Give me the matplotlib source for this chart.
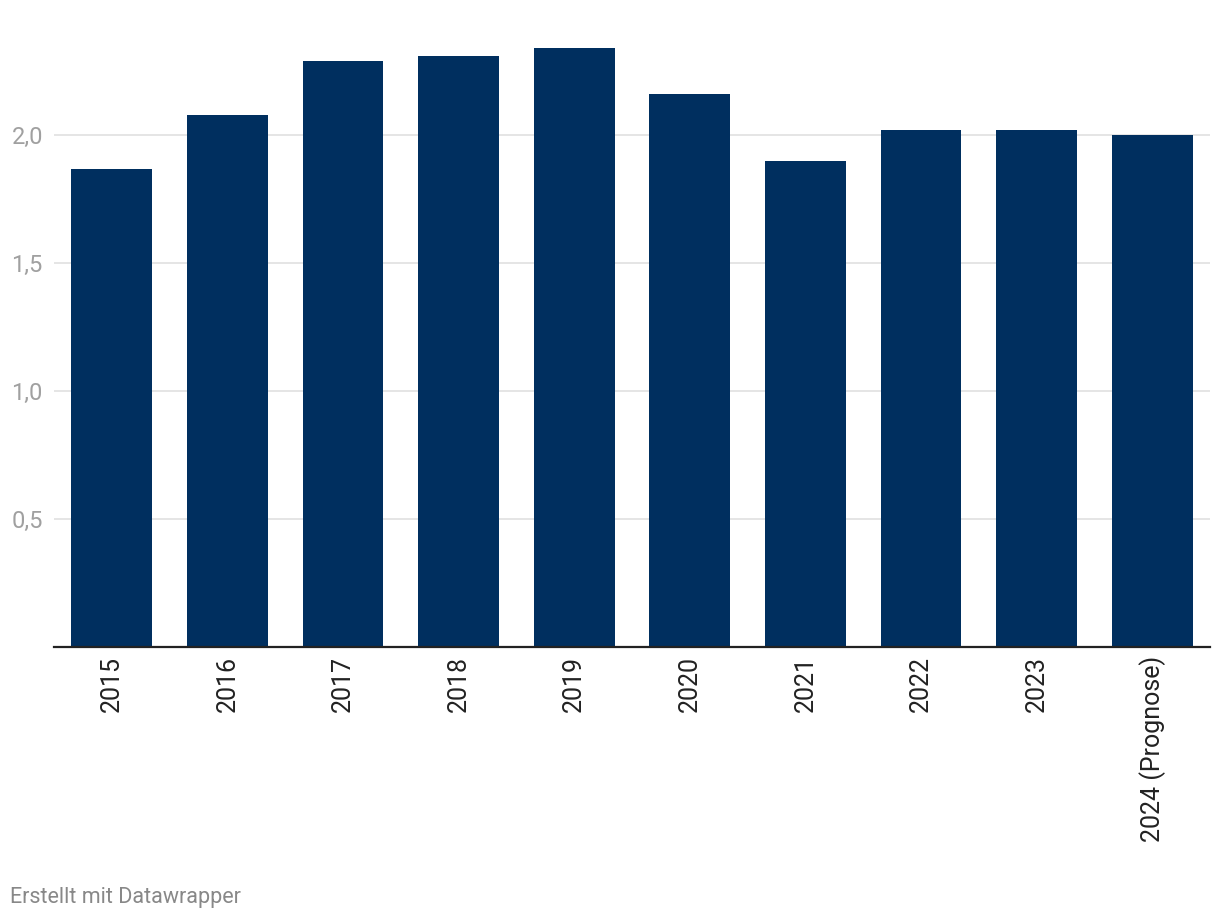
import matplotlib.pyplot as plt
import numpy as np

plt.rcParams['font.family'] = ['Roboto', 'DejaVu Sans']

years = ["2015", "2016", "2017", "2018", "2019", "2020", "2021", "2022", "2023", "2024 (Prognose)"]
values = [1.87, 2.08, 2.29, 2.31, 2.34, 2.16, 1.90, 2.02, 2.02, 2.00]
y_ticks = [0.5, 1.0, 1.5, 2.0]
y_tick_labels = ["0,5", "1,0", "1,5", "2,0"]

bar_color = "#002f5f"

fig = plt.figure(figsize=(12.2, 9.24), dpi=100)
ax = fig.add_axes([54 / 1220, 1 - 647.3 / 924, (1210 - 54) / 1220, (647.3 - 10) / 924])

x = np.arange(len(years))
ax.bar(x, values, width=0.70, color=bar_color, zorder=3)

ax.set_xlim(-0.5, len(years) - 0.5)
ax.set_ylim(0, 2.49)

ax.set_yticks(y_ticks)
ax.set_yticklabels(y_tick_labels)
ax.grid(axis="y", color="#e5e5e5", linewidth=1.4, zorder=0)

ax.set_xticks(x)
ax.set_xticklabels(years, rotation=90, va="top", ha="center")

for side in ["top", "right", "left"]:
    ax.spines[side].set_visible(False)
ax.spines["bottom"].set_color("#222222")
ax.spines["bottom"].set_linewidth(1.6)
ax.spines["bottom"].set_zorder(4)

ax.tick_params(axis="y", length=0, pad=8, labelsize=17, labelcolor="#a0a0a0")
ax.tick_params(axis="x", length=0, pad=6, labelsize=18, labelcolor="#222222")

fig.text(10 / 1220, 1 - 898 / 924, "Erstellt mit Datawrapper", fontsize=15.5,
         color="#888888", ha="left", va="center")

plt.savefig("out.png", dpi=100)
